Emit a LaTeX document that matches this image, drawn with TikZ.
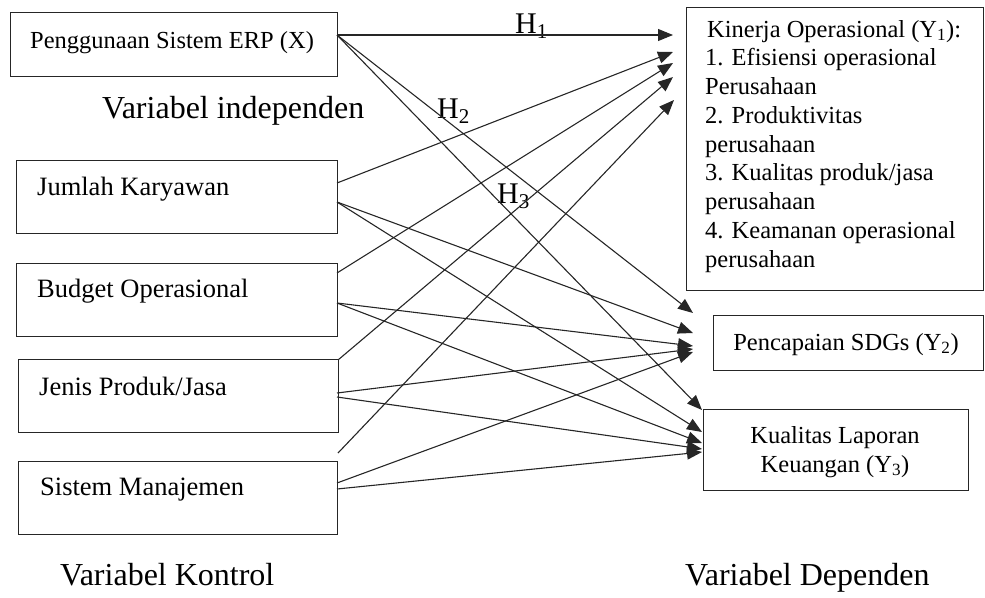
\documentclass[tikz,border=0pt]{standalone}
\usepackage{fontspec}
\setmainfont{Liberation Serif}
\usetikzlibrary{arrows.meta}
\begin{document}
\begin{tikzpicture}[x=1pt,y=-1pt,
  box/.style={draw=black!85, line width=1.3pt, inner sep=0pt, anchor=north west},
  txt/.style={inner sep=0pt, anchor=base west, font=\fontsize{24.5}{28.75}\selectfont},
  ctxt/.style={inner sep=0pt, anchor=base west, font=\fontsize{26.5}{30}\selectfont},
  big/.style={inner sep=0pt, anchor=base west, font=\fontsize{32}{36}\selectfont},
  hlab/.style={inner sep=0pt, anchor=base west, font=\fontsize{30}{34}\selectfont},
  arr/.style={draw=black!85, line width=1.1pt, -{Triangle[length=15pt,width=12pt]}}]
\useasboundingbox (0,0) rectangle (985,597);
% left boxes
\node[box, minimum width=327pt, minimum height=64pt] (X) at (10,12) {};
\node[box, minimum width=321pt, minimum height=73pt] (J) at (16,160) {};
\node[box, minimum width=321pt, minimum height=73pt] (B) at (16,263) {};
\node[box, minimum width=320pt, minimum height=73pt] (P) at (18,359) {};
\node[box, minimum width=319pt, minimum height=73pt] (S) at (18,461) {};
\node[txt] (Xt) at (30,48) {Penggunaan Sistem ERP (X)};
\node[ctxt] (Jt) at (37,195) {Jumlah Karyawan};
\node[ctxt] (Bt) at (37,297) {Budget Operasional};
\node[ctxt] (Pt) at (39,395) {Jenis Produk/Jasa};
\node[ctxt] (St) at (40,495) {Sistem Manajemen};
\node[big] (vi) at (102,118) {Variabel independen};
\node[big] (vk) at (60,585) {Variabel Kontrol};
\node[big] (vd) at (685,585) {Variabel Dependen};
% right boxes
\node[box, minimum width=297pt, minimum height=283pt] (Y1) at (686,7) {};
\node[box, minimum width=270pt, minimum height=55pt] (Y2) at (713,315) {};
\node[box, minimum width=265pt, minimum height=81pt] (Y3) at (703,409) {};
\node[txt] (y1l1) at (707,37) {Kinerja Operasional (Y\textsubscript{1}):};
\foreach \t [count=\i from 2] in {1. Efisiensi operasional, Perusahaan, 2. Produktivitas, perusahaan, 3. Kualitas produk/jasa, perusahaan, 4. Keamanan operasional, perusahaan}{
  \node[txt] (y1l\i) at (705,{37+28.75*(\i-1)}) {\t};
}
\node[txt, anchor=base] (y2t) at (846,350) {Pencapaian SDGs (Y\textsubscript{2})};
\node[txt, anchor=base] (y3t1) at (835,443) {Kualitas Laporan};
\node[txt, anchor=base] (y3t2) at (835,472) {Keuangan (Y\textsubscript{3})};
% hypothesis labels
\node[hlab] (h1) at (515,33) {H\textsubscript{1}};
\node[hlab] (h2) at (437,118) {H\textsubscript{2}};
\node[hlab] (h3) at (497,203) {H\textsubscript{3}};
% start points
\coordinate (xs) at (337,35);
\coordinate (ju) at (337,183);
\coordinate (jd) at (337,202);
\coordinate (bu) at (337,273);
\coordinate (bd) at (337,303);
\coordinate (pu) at (338,360);
\coordinate (pm) at (337,393);
\coordinate (pd) at (337,397);
\coordinate (su) at (338,453);
\coordinate (sm) at (337,483);
\coordinate (sd) at (337,489);
% tips Y1
\coordinate (a1) at (673,35);
\coordinate (a2) at (673,52);
\coordinate (a3) at (673,63);
\coordinate (a4) at (673,77);
\coordinate (a5) at (674,100);
% tips Y2
\coordinate (b1) at (693,313);
\coordinate (b2) at (693,333);
\coordinate (b3) at (693,346);
\coordinate (b4) at (693,349);
\coordinate (b5) at (693,352);
% tips Y3
\coordinate (c1) at (702,410);
\coordinate (c2) at (702,432);
\coordinate (c3) at (702,443);
\coordinate (c4) at (702,449);
\coordinate (c5) at (702,452);
% connectors
\draw[arr] (xs) -- (a1);
\draw[arr] (xs) -- (b1);
\draw[arr] (xs) -- (c1);
\draw[arr] (ju) -- (a2);
\draw[arr] (bu) -- (a3);
\draw[arr] (pu) -- (a4);
\draw[arr] (su) -- (a5);
\draw[arr] (jd) -- (b2);
\draw[arr] (jd) -- (c2);
\draw[arr] (bd) -- (b3);
\draw[arr] (bd) -- (c3);
\draw[arr] (pm) -- (b4);
\draw[arr] (pd) -- (c4);
\draw[arr] (sm) -- (b5);
\draw[arr] (sd) -- (c5);
\end{tikzpicture}
\end{document}
